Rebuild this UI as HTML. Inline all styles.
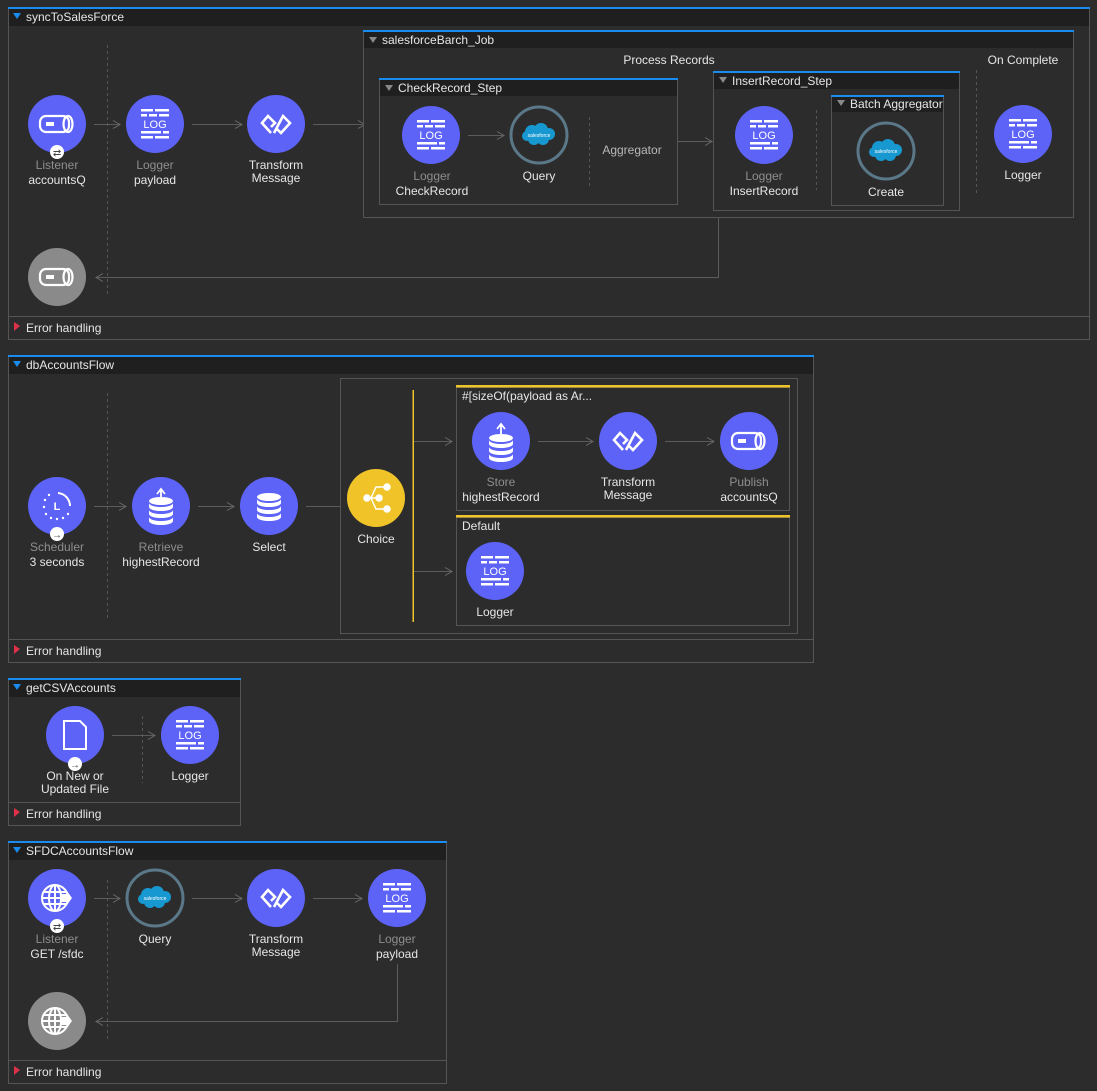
<!DOCTYPE html>
<html><head><meta charset="utf-8">
<style>
html,body{margin:0;padding:0;background:#2c2c2d;}
svg{display:block;}
text{font-family:"Liberation Sans",sans-serif;font-size:12px;fill:#e6e6e6;}
.g{fill:#8e8e8e;}
.c{text-anchor:middle;}
.ln{stroke:#5c5c5c;stroke-width:1;fill:none;}
.ds{stroke:#555;stroke-width:1;stroke-dasharray:3,3;fill:none;}
.bx{fill:#2c2c2d;stroke:#555;stroke-width:1;}
.hd{fill:#1f1f20;}
.blue{fill:#1a8cf0;}
.yel{fill:#f0c428;}
</style></head><body>
<svg width="1097" height="1091" viewBox="0 0 1097 1091" xmlns="http://www.w3.org/2000/svg">
<defs>
<marker id="ar" markerWidth="10" markerHeight="10" refX="8" refY="5" orient="auto" markerUnits="userSpaceOnUse">
<path d="M1,1 L8,5 L1,9" fill="none" stroke="#6a6a6a" stroke-width="1"/></marker>
<symbol id="log" viewBox="-29 -29 58 58" overflow="visible">
<circle r="29" fill="#5d63f6"/>
<g fill="#fff"><rect x="-14" y="-15" width="12" height="2.5"/><rect x="0" y="-15" width="14" height="2.5"/>
<rect x="-14" y="-10" width="6" height="2.5"/><rect x="-6" y="-10" width="8" height="2.5"/><rect x="4" y="-10" width="10" height="2.5"/>
<rect x="-14" y="7" width="20" height="2.5"/><rect x="8" y="7" width="6" height="2.5"/>
<rect x="-14" y="12" width="12" height="2.5"/><rect x="0" y="12" width="14" height="2.5"/></g>
<text x="0" y="4" text-anchor="middle" style="font-size:11px;fill:#fff">LOG</text>
</symbol>
<symbol id="tr" viewBox="-29 -29 58 58" overflow="visible">
<circle r="29" fill="#5d63f6"/>
<path d="M-5,9 L-14,-1 L-8,-8 L-1,-1 L-5,3 M-2,9 L7,-8 L14,-1 L5,9 L1,5" fill="none" stroke="#fff" stroke-width="2.6" stroke-linejoin="miter"/>
</symbol>
<symbol id="q" viewBox="-29 -29 58 58" overflow="visible">
<rect x="-17" y="-8" width="29" height="16" rx="6" fill="none" stroke="#fff" stroke-width="2.2"/>
<ellipse cx="11" cy="0" rx="4.5" ry="8" fill="none" stroke="#fff" stroke-width="2.2"/>
<rect x="-11" y="-2" width="8" height="4" fill="#fff"/>
</symbol>
<symbol id="globe" viewBox="-29 -29 58 58" overflow="visible">
<g fill="none" stroke="#fff" stroke-width="2"><circle cx="-2" cy="0" r="13"/><ellipse cx="-2" cy="0" rx="6" ry="13"/><line x1="-15" y1="0" x2="11" y2="0"/><line x1="-13" y1="-6" x2="9" y2="-6"/><line x1="-13" y1="6" x2="9" y2="6"/><line x1="-2" y1="-13" x2="-2" y2="13"/></g>
<path d="M4,-4 L10,-4 L10,-7 L15,0 L10,7 L10,4 L4,4Z" fill="#fff"/>
</symbol>
<symbol id="sf" viewBox="-29 -29 58 58" overflow="visible">
<circle r="28" fill="#2c2c2d" stroke="#5a7888" stroke-width="3"/>
<g fill="#1798d0"><circle cx="-7" cy="-3" r="7"/><circle cx="2" cy="-5" r="7"/><circle cx="10" cy="-1" r="6"/><circle cx="4" cy="4" r="6"/><circle cx="-5" cy="4" r="6"/><circle cx="-12" cy="1" r="5"/></g>
<text x="0" y="2" text-anchor="middle" style="font-size:5px;fill:#fff">salesforce</text>
</symbol>
<symbol id="db" viewBox="-29 -29 58 58" overflow="visible">
<g fill="#fff"><path d="M-12,-5 a12,4 0 0 0 24,0 v4 a12,4 0 0 1 -24,0z"/><path d="M-12,2 a12,4 0 0 0 24,0 v4 a12,4 0 0 1 -24,0z"/><path d="M-12,9 a12,4 0 0 0 24,0 v4 a12,4 0 0 1 -24,0z"/><ellipse cx="0" cy="-7" rx="12" ry="4"/></g>
</symbol>
<symbol id="badgeS" viewBox="-8 -8 16 16" overflow="visible"><circle r="7" fill="#fff"/><text x="0" y="4" text-anchor="middle" style="font-size:10px;fill:#444">⇄</text></symbol>
<symbol id="badgeA" viewBox="-8 -8 16 16" overflow="visible"><circle r="7" fill="#fff"/><text x="0" y="4" text-anchor="middle" style="font-size:10px;fill:#444">→</text></symbol>
</defs>

<!-- ============ FLOW 1 ============ -->
<rect x="8.5" y="8.5" width="1081" height="331" class="bx"/>
<rect x="9" y="9" width="1080" height="17" class="hd"/>
<rect x="8" y="7" width="1082" height="2" class="blue"/>
<path d="M13,13 L21,13 L17,19Z" fill="#1a8cf0"/>
<text x="26" y="21">syncToSalesForce</text>
<line x1="9" y1="316.5" x2="1089" y2="316.5" stroke="#555"/>
<path d="M14,322 L20,326 L14,331Z" fill="#e0304a"/>
<text x="26" y="332">Error handling</text>

<line x1="107.5" y1="45" x2="107.5" y2="295" class="ds"/>
<circle cx="57" cy="124" r="29" fill="#5d63f6"/><use href="#q" x="28" y="95" width="58" height="58"/>
<use href="#badgeS" x="49" y="144" width="16" height="16"/>
<text x="57" y="169" class="g c">Listener</text><text x="57" y="184" class="c">accountsQ</text>
<line x1="94" y1="124.5" x2="120" y2="124.5" class="ln" marker-end="url(#ar)"/>
<use href="#log" x="126" y="95" width="58" height="58"/>
<text x="155" y="169" class="g c">Logger</text><text x="155" y="184" class="c">payload</text>
<line x1="192" y1="124.5" x2="242" y2="124.5" class="ln" marker-end="url(#ar)"/>
<use href="#tr" x="247" y="95" width="58" height="58"/>
<text x="276" y="169" class="c">Transform</text><text x="276" y="182" class="c">Message</text>
<line x1="313" y1="124.5" x2="365" y2="124.5" class="ln" marker-end="url(#ar)"/>

<circle cx="57" cy="277" r="29" fill="#8a8a8a"/><use href="#q" x="28" y="248" width="58" height="58"/>
<path d="M718.5,218 V277.5 H96" class="ln" marker-end="url(#ar)"/>

<!-- batch job -->
<rect x="363.5" y="31.5" width="710" height="186" class="bx"/>
<rect x="364" y="32" width="709" height="16" class="hd"/>
<rect x="363" y="30" width="711" height="2" class="blue"/>
<path d="M369,37 L377,37 L373,43Z" fill="#888"/>
<text x="382" y="44">salesforceBarch_Job</text>
<text x="669" y="64" class="c">Process Records</text>
<text x="1023" y="64" class="c">On Complete</text>

<rect x="379.5" y="79.5" width="298" height="125" class="bx"/>
<rect x="380" y="80" width="297" height="16" class="hd"/>
<rect x="379" y="78" width="299" height="2" class="blue"/>
<path d="M385,85 L393,85 L389,91Z" fill="#888"/>
<text x="398" y="92">CheckRecord_Step</text>
<use href="#log" x="402" y="106" width="58" height="58"/>
<text x="432" y="180" class="g c">Logger</text><text x="432" y="195" class="c">CheckRecord</text>
<line x1="468" y1="135.5" x2="504" y2="135.5" class="ln" marker-end="url(#ar)"/>
<use href="#sf" x="510" y="106" width="58" height="58"/>
<text x="539" y="180" class="c">Query</text>
<line x1="589.5" y1="117" x2="589.5" y2="186" class="ds"/>
<text x="632" y="154" class="c g" style="fill:#b8b8b8">Aggregator</text>
<line x1="678" y1="141.5" x2="712" y2="141.5" class="ln" marker-end="url(#ar)"/>

<rect x="713.5" y="72.5" width="246" height="138" class="bx"/>
<rect x="714" y="73" width="245" height="16" class="hd"/>
<rect x="713" y="71" width="247" height="2" class="blue"/>
<path d="M719,77 L727,77 L723,83Z" fill="#888"/>
<text x="732" y="85">InsertRecord_Step</text>
<use href="#log" x="735" y="106" width="58" height="58"/>
<text x="764" y="180" class="g c">Logger</text><text x="764" y="195" class="c">InsertRecord</text>
<line x1="816.5" y1="110" x2="816.5" y2="190" class="ds"/>
<rect x="831.5" y="96.5" width="112" height="109" class="bx"/>
<rect x="832" y="97" width="111" height="15" class="hd"/>
<rect x="831" y="95" width="113" height="2" class="blue"/>
<path d="M837,100 L845,100 L841,106Z" fill="#888"/>
<text x="850" y="108">Batch Aggregator</text>
<use href="#sf" x="857" y="122" width="58" height="58"/>
<text x="886" y="196" class="c">Create</text>
<line x1="976.5" y1="70" x2="976.5" y2="196" class="ds"/>
<use href="#log" x="994" y="105" width="58" height="58"/>
<text x="1023" y="179" class="c">Logger</text>

<!-- ============ FLOW 2 ============ -->
<rect x="8.5" y="356.5" width="805" height="306" class="bx"/>
<rect x="9" y="357" width="804" height="17" class="hd"/>
<rect x="8" y="355" width="806" height="2" class="blue"/>
<path d="M13,361 L21,361 L17,367Z" fill="#1a8cf0"/>
<text x="26" y="369">dbAccountsFlow</text>
<line x1="9" y1="639.5" x2="813" y2="639.5" stroke="#555"/>
<path d="M14,645 L20,649 L14,654Z" fill="#e0304a"/>
<text x="26" y="655">Error handling</text>

<line x1="107.5" y1="393" x2="107.5" y2="620" class="ds"/>
<circle cx="57" cy="506" r="29" fill="#5d63f6"/>
<g fill="#fff"><circle cx="45" cy="500" r="1.2"/><circle cx="44" cy="507" r="1.2"/><circle cx="46" cy="514" r="1.2"/><circle cx="51" cy="518" r="1.2"/><circle cx="57" cy="519" r="1.2"/><circle cx="63" cy="518" r="1.2"/><circle cx="68" cy="514" r="1.2"/><circle cx="49" cy="495" r="1.2"/></g>
<path d="M58,493 A13,13 0 0 1 70,506" fill="none" stroke="#fff" stroke-width="2"/>
<text x="57" y="510" class="c" style="fill:#fff;font-weight:bold;font-size:11px">L</text>
<use href="#badgeA" x="49" y="526" width="16" height="16"/>
<text x="57" y="551" class="g c">Scheduler</text><text x="57" y="566" class="c">3 seconds</text>
<line x1="94" y1="506.5" x2="126" y2="506.5" class="ln" marker-end="url(#ar)"/>
<circle cx="161" cy="506" r="29" fill="#5d63f6"/><use href="#db" x="132" y="479" width="58" height="58"/>
<path d="M161,500 V490 M157,494 L161,489 L165,494" stroke="#fff" stroke-width="1.8" fill="none"/>
<text x="161" y="551" class="g c">Retrieve</text><text x="161" y="566" class="c">highestRecord</text>
<line x1="198" y1="506.5" x2="234" y2="506.5" class="ln" marker-end="url(#ar)"/>
<circle cx="269" cy="506" r="29" fill="#5d63f6"/><use href="#db" x="240" y="475" width="58" height="58"/>
<text x="269" y="551" class="c">Select</text>
<line x1="306" y1="506.5" x2="340" y2="506.5" class="ln"/>

<rect x="340.5" y="378.5" width="457" height="255" class="bx"/>
<circle cx="376" cy="498" r="29" fill="#f0c428"/>
<g fill="#fff" stroke="#fff" stroke-width="1.5"><circle cx="367" cy="498" r="3"/><circle cx="379" cy="498" r="3"/><circle cx="387" cy="487" r="3"/><circle cx="387" cy="509" r="3"/><path d="M367,498 H379 M371,498 L376,487 H387 M371,498 L376,509 H387" fill="none"/></g>
<text x="376" y="543" class="c">Choice</text>
<rect x="412.5" y="390" width="1.5" height="232" class="yel"/>
<line x1="414" y1="441.5" x2="452" y2="441.5" class="ln" marker-end="url(#ar)"/>
<line x1="414" y1="571.5" x2="452" y2="571.5" class="ln" marker-end="url(#ar)"/>

<rect x="456.5" y="387.5" width="333" height="123" class="bx"/>
<rect x="456" y="385" width="334" height="2.5" class="yel"/>
<text x="462" y="400">#[sizeOf(payload as Ar...</text>
<circle cx="501" cy="441" r="29" fill="#5d63f6"/><use href="#db" x="472" y="416" width="58" height="58"/>
<path d="M501,435 V425 M497,429 L501,424 L505,429" stroke="#fff" stroke-width="1.8" fill="none"/>
<text x="501" y="486" class="g c">Store</text><text x="501" y="501" class="c">highestRecord</text>
<line x1="538" y1="441.5" x2="593" y2="441.5" class="ln" marker-end="url(#ar)"/>
<use href="#tr" x="599" y="412" width="58" height="58"/>
<text x="628" y="486" class="c">Transform</text><text x="628" y="499" class="c">Message</text>
<line x1="665" y1="441.5" x2="714" y2="441.5" class="ln" marker-end="url(#ar)"/>
<circle cx="749" cy="441" r="29" fill="#5d63f6"/><use href="#q" x="720" y="412" width="58" height="58"/>
<text x="749" y="486" class="g c">Publish</text><text x="749" y="501" class="c">accountsQ</text>

<rect x="456.5" y="517.5" width="333" height="108" class="bx"/>
<rect x="456" y="515" width="334" height="2.5" class="yel"/>
<text x="462" y="530">Default</text>
<use href="#log" x="466" y="542" width="58" height="58"/>
<text x="495" y="616" class="c">Logger</text>

<!-- ============ FLOW 3 ============ -->
<rect x="8.5" y="679.5" width="232" height="146" class="bx"/>
<rect x="9" y="680" width="231" height="17" class="hd"/>
<rect x="8" y="678" width="233" height="2" class="blue"/>
<path d="M13,684 L21,684 L17,690Z" fill="#1a8cf0"/>
<text x="26" y="692">getCSVAccounts</text>
<line x1="9" y1="802.5" x2="240" y2="802.5" stroke="#555"/>
<path d="M14,808 L20,812 L14,817Z" fill="#e0304a"/>
<text x="26" y="818">Error handling</text>
<circle cx="75" cy="735" r="29" fill="#5d63f6"/>
<path d="M64,721 H80 L86,727 V749 H64Z" fill="none" stroke="#fff" stroke-width="2"/>
<use href="#badgeA" x="67" y="756" width="16" height="16"/>
<text x="75" y="780" class="c">On New or</text><text x="75" y="793" class="c">Updated File</text>
<line x1="142.5" y1="716" x2="142.5" y2="783" class="ds"/>
<line x1="112" y1="735.5" x2="155" y2="735.5" class="ln" marker-end="url(#ar)"/>
<use href="#log" x="161" y="706" width="58" height="58"/>
<text x="190" y="780" class="c">Logger</text>

<!-- ============ FLOW 4 ============ -->
<rect x="8.5" y="842.5" width="438" height="241" class="bx"/>
<rect x="9" y="843" width="437" height="17" class="hd"/>
<rect x="8" y="841" width="439" height="2" class="blue"/>
<path d="M13,847 L21,847 L17,853Z" fill="#1a8cf0"/>
<text x="26" y="855">SFDCAccountsFlow</text>
<line x1="9" y1="1060.5" x2="446" y2="1060.5" stroke="#555"/>
<path d="M14,1066 L20,1070 L14,1075Z" fill="#e0304a"/>
<text x="26" y="1076">Error handling</text>
<line x1="107.5" y1="880" x2="107.5" y2="1040" class="ds"/>
<circle cx="57" cy="898" r="29" fill="#5d63f6"/><use href="#globe" x="28" y="869" width="58" height="58"/>
<use href="#badgeS" x="49" y="918" width="16" height="16"/>
<text x="57" y="943" class="g c">Listener</text><text x="57" y="958" class="c">GET /sfdc</text>
<line x1="94" y1="898.5" x2="120" y2="898.5" class="ln" marker-end="url(#ar)"/>
<use href="#sf" x="126" y="869" width="58" height="58"/>
<text x="155" y="943" class="c">Query</text>
<line x1="192" y1="898.5" x2="242" y2="898.5" class="ln" marker-end="url(#ar)"/>
<use href="#tr" x="247" y="869" width="58" height="58"/>
<text x="276" y="943" class="c">Transform</text><text x="276" y="956" class="c">Message</text>
<line x1="313" y1="898.5" x2="362" y2="898.5" class="ln" marker-end="url(#ar)"/>
<use href="#log" x="368" y="869" width="58" height="58"/>
<text x="397" y="943" class="g c">Logger</text><text x="397" y="958" class="c">payload</text>
<circle cx="57" cy="1021" r="29" fill="#8a8a8a"/><use href="#globe" x="28" y="992" width="58" height="58"/>
<path d="M397.5,964 V1021.5 H96" class="ln" marker-end="url(#ar)"/>
</svg>
</body></html>
